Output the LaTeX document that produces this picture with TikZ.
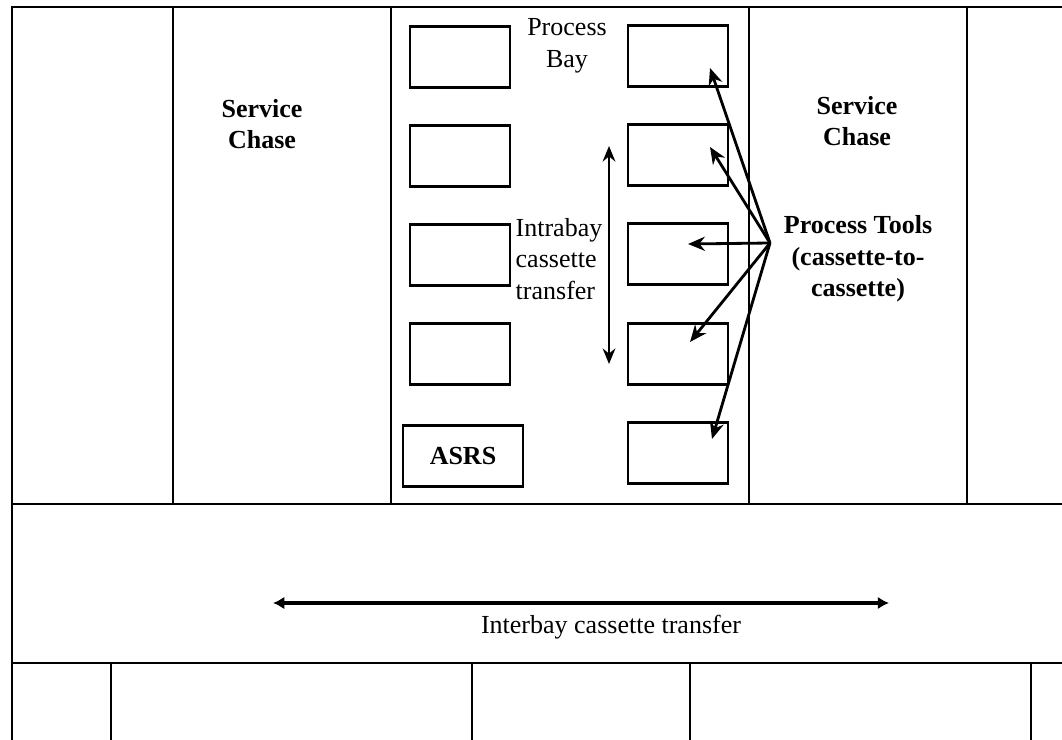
\documentclass[tikz,border=0pt]{standalone}
\usepackage{fontspec}
\setmainfont{Liberation Serif}
\usetikzlibrary{arrows.meta, calc}
\tikzset{
  every picture/.style={line width=1.8pt},
  wall/.style={line width=2.1pt},
  tool/.style={draw, line width=2pt, minimum width=2.5cm, minimum height=1.52cm, inner sep=0pt},
  label/.style={font=\fontsize{18.5}{22.5}\selectfont, align=center, inner sep=1pt},
  heavy/.style={label, font=\fontsize{18.5}{22.5}\selectfont\bfseries},
  arrow/.style={-{Stealth[length=12pt, width=10pt]}, line width=2pt},
  both/.style={{Stealth[length=11pt, width=9pt]}-{Stealth[length=11pt, width=9pt]}, line width=2pt},
  wide/.style={{Latex[length=8pt, width=9pt]}-{Latex[length=8pt, width=9pt]}, line width=2.6pt},
}

\begin{document}
\begin{tikzpicture}[x=0.025cm, y=-0.025cm]
  \useasboundingbox (0,0) rectangle (1062,740);
  % fab floor outline
  \draw[wall] (1062,7) -- (12,7) -- (12,740);
  \draw[wall] (12,504) -- (1062,504);
  \draw[wall] (12,663) -- (1062,663);
  \foreach \xx in {173,391,749,967} \draw[wall] (\xx,7) -- (\xx,504);
  \foreach \xx in {111,472,690,1031} \draw[wall] (\xx,663) -- (\xx,740);
  % process bay tools
  \node[tool] (l1) at (460,57) {};
  \node[tool] (l2) at (460,156) {};
  \node[tool] (l3) at (460,255) {};
  \node[tool] (l4) at (460,354) {};
  \node[tool, minimum width=3cm, font=\fontsize{18.5}{22.5}\selectfont\bfseries] (asrs) at (463,456) {ASRS};
  \node[tool] (r1) at (678,56) {};
  \node[tool] (r2) at (678,155) {};
  \node[tool] (r3) at (678,254) {};
  \node[tool] (r4) at (678,354) {};
  \node[tool] (r5) at (678,453) {};
  % labels
  \node[label] (bay) at (567,46) {Process\\Bay};
  \node[heavy] (chasel) at (262,124) {Service\\Chase};
  \node[heavy] (chaser) at (857,121) {Service\\Chase};
  \node[heavy] (ptools) at (858,259) {Process Tools\\(cassette-to-\\cassette)};
  \node[label, align=left, anchor=west] (intra) at (513,259) {Intrabay\\cassette\\transfer};
  \node[label] (inter) at (611,627) {Interbay cassette transfer};
  % transfer arrows
  \coordinate (intratop) at (609,146);
  \coordinate (intrabot) at (609,364);
  \draw[both] (intratop) -- (intrabot);
  \coordinate (interl) at (273,603);
  \coordinate (interr) at (889,603);
  \draw[wide] (interl) -- (interr);
  % process tools fan
  \coordinate (hub) at (770,243);
  \coordinate (t1) at ($(r1.center)+(32,12)$);
  \coordinate (t2) at ($(r2.center)+(32,-8)$);
  \coordinate (t3) at ($(r3.center)+(10,-10)$);
  \coordinate (t4) at ($(r4.center)+(12,-12)$);
  \coordinate (t5) at ($(r5.center)+(34,-14)$);
  \foreach \t in {t1,t2,t3,t4,t5} \draw[arrow] (hub) -- (\t);
\end{tikzpicture}
\end{document}
